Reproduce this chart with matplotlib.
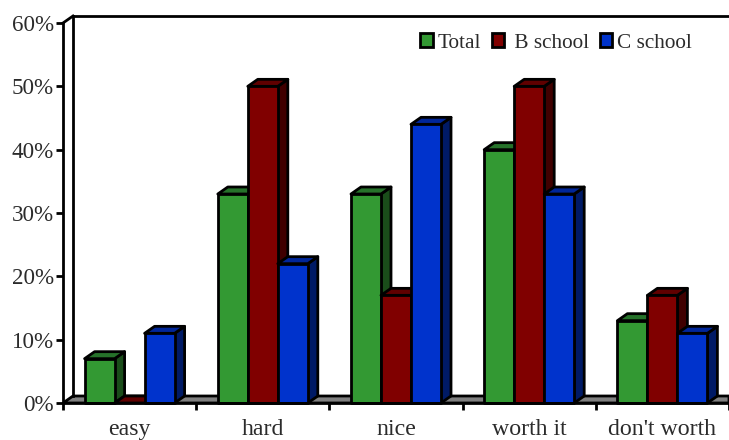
import numpy as np
import matplotlib
matplotlib.use('Agg')
import matplotlib.pyplot as plt
from matplotlib.patches import Polygon, Patch

categories = ['easy', 'hard', 'nice', 'worth it', "don't worth"]
total = [7, 33, 33, 40, 13]
b_school = [0, 50, 17, 50, 17]
c_school = [11, 22, 44, 33, 11]
y_ticks = [0, 10, 20, 30, 40, 50, 60]
series_names = ['Total', ' B school', 'C school']

# front, top, side colours for each series
colors = [('#339933', '#26722a', '#1a4d1a'),
          ('#800000', '#600000', '#400000'),
          ('#0033cc', '#002699', '#001a66')]

plt.rcParams['font.family'] = ['Liberation Serif', 'DejaVu Serif']
edge = 'black'
lw = 2.0
text_color = '#2b2b2b'

W, H = 729, 440
fig = plt.figure(figsize=(W / 100, H / 100), dpi=100)
ax = fig.add_axes([63 / W, (H - 403) / H, (W - 63) / W, 380 / H])
ax.set_xlim(0, 5)
ax.set_ylim(0, 60)

# depth of the fake 3d in data units
dx = 10 / 133.2
dy = 7 / 6.333
bar_w = 30 / 133.2

# floor and back wall
ax.add_patch(Polygon([(0, 0), (dx, dy), (5, dy), (5, 0)], closed=True, fc='#808080',
                     ec=edge, lw=lw, clip_on=True, zorder=1))
ax.plot([dx, dx], [dy, 60 + dy], color=edge, lw=lw, clip_on=False, zorder=1)
ax.plot([dx, 5], [60 + dy, 60 + dy], color=edge, lw=lw, clip_on=False, zorder=1)
ax.plot([0, dx], [60, 60 + dy], color=edge, lw=lw, clip_on=False, zorder=1)


def draw_bar(x, v, cols, z):
    top = [(x, v), (x + dx, v + dy), (x + bar_w + dx, v + dy), (x + bar_w, v)]
    side = [(x + bar_w, 0), (x + bar_w + dx, dy), (x + bar_w + dx, v + dy), (x + bar_w, v)]
    ax.add_patch(Polygon(side, closed=True, fc=cols[2], ec=edge, lw=lw, joinstyle='round',
                         clip_on=False, zorder=z))
    ax.add_patch(Polygon(top, closed=True, fc=cols[1], ec=edge, lw=lw, joinstyle='round',
                         clip_on=False, zorder=z))
    if v > 0:
        ax.add_patch(Polygon([(x, 0), (x + bar_w, 0), (x + bar_w, v), (x, v)], closed=True,
                             fc=cols[0], ec=edge, lw=lw, joinstyle='round',
                             clip_on=False, zorder=z))


z = 2
for i in range(len(categories)):
    for j, vals in enumerate([total, b_school, c_school]):
        x = i + 0.5 + (j - 1.5) * bar_w
        draw_bar(x, vals[i], colors[j], z)
        z += 1

# axes
for s in ['top', 'right']:
    ax.spines[s].set_visible(False)
for s in ['left', 'bottom']:
    ax.spines[s].set_linewidth(lw)
    ax.spines[s].set_zorder(50)
    ax.spines[s].set_color(edge)
ax.patch.set_visible(False)

ax.set_yticks(y_ticks)
ax.set_yticklabels([f'{v}%' for v in y_ticks])
ax.set_xticks(np.arange(6))
ax.set_xticklabels([])
ax.set_xticks(np.arange(5) + 0.5, minor=True)
ax.set_xticklabels(categories, minor=True)
ax.tick_params(axis='x', which='major', length=5, width=lw, color=edge)
ax.tick_params(axis='x', which='minor', length=0, pad=11.5, labelsize=17.2, labelcolor=text_color)
ax.tick_params(axis='y', length=5, width=lw, color=edge, pad=1.5, labelsize=16.6,
               labelcolor=text_color)

handles = [Patch(fc=c[0], ec=edge, lw=lw) for c in colors]
ax.legend(handles, series_names, ncol=3, loc='center left',
          bbox_to_anchor=((420 - 63) / (W - 63), (403 - 43) / 380), frameon=False,
          fontsize=15.3, handlelength=0.6, handleheight=0.65, handletextpad=0.22,
          columnspacing=0.5, borderpad=0, borderaxespad=0, labelcolor=text_color)

fig.savefig('out.png', dpi=100)
